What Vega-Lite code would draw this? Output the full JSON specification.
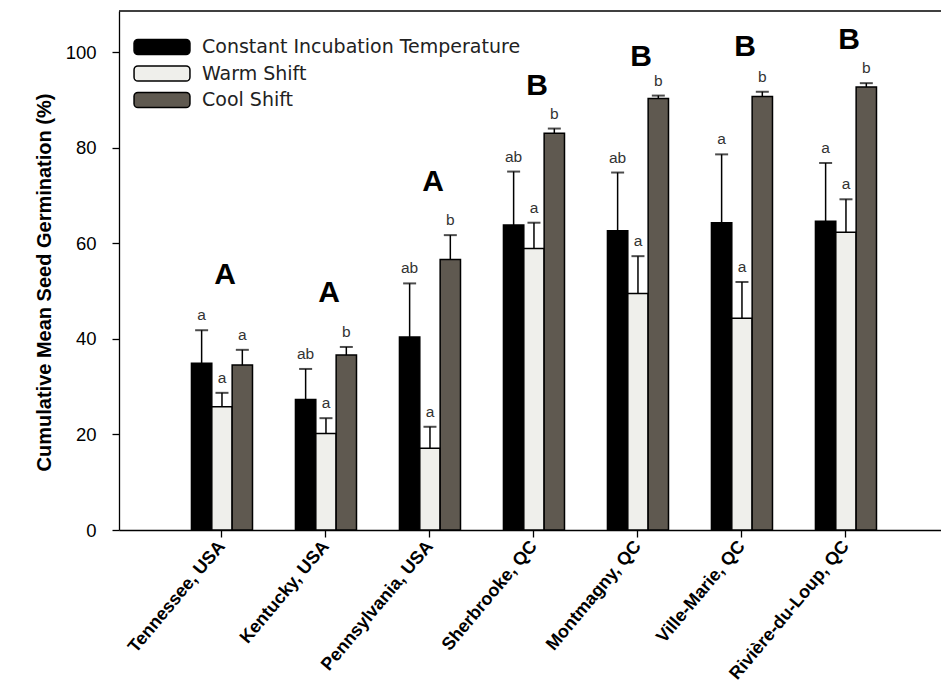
{
  "$schema": "https://vega.github.io/schema/vega-lite/v6.json",
  "width": 822,
  "height": 519,
  "autosize": {"type": "none"},
  "padding": {"left": 119, "top": 11, "right": 0, "bottom": 159},
  "background": "white",
  "config": {
    "view": {"stroke": null},
    "font": "Liberation Sans",
    "axis": {"grid": false, "domainColor": "black", "tickColor": "black", "domainWidth": 1.3, "tickWidth": 1.3, "labelColor": "black", "titleColor": "black"}
  },
  "datasets": {
    "bars": [
      {"site": "Tennessee, USA", "treatment": "Constant Incubation Temperature", "mean": 34.9, "upper": 41.8, "letter": "a"},
      {"site": "Tennessee, USA", "treatment": "Warm Shift", "mean": 25.8, "upper": 28.7, "letter": "a"},
      {"site": "Tennessee, USA", "treatment": "Cool Shift", "mean": 34.5, "upper": 37.7, "letter": "a"},
      {"site": "Kentucky, USA", "treatment": "Constant Incubation Temperature", "mean": 27.3, "upper": 33.7, "letter": "ab"},
      {"site": "Kentucky, USA", "treatment": "Warm Shift", "mean": 20.2, "upper": 23.4, "letter": "a"},
      {"site": "Kentucky, USA", "treatment": "Cool Shift", "mean": 36.6, "upper": 38.3, "letter": "b"},
      {"site": "Pennsylvania, USA", "treatment": "Constant Incubation Temperature", "mean": 40.4, "upper": 51.6, "letter": "ab"},
      {"site": "Pennsylvania, USA", "treatment": "Warm Shift", "mean": 17.1, "upper": 21.6, "letter": "a"},
      {"site": "Pennsylvania, USA", "treatment": "Cool Shift", "mean": 56.6, "upper": 61.7, "letter": "b"},
      {"site": "Sherbrooke, QC", "treatment": "Constant Incubation Temperature", "mean": 63.8, "upper": 75.0, "letter": "ab"},
      {"site": "Sherbrooke, QC", "treatment": "Warm Shift", "mean": 58.9, "upper": 64.3, "letter": "a"},
      {"site": "Sherbrooke, QC", "treatment": "Cool Shift", "mean": 83.0, "upper": 84.0, "letter": "b"},
      {"site": "Montmagny, QC", "treatment": "Constant Incubation Temperature", "mean": 62.6, "upper": 74.8, "letter": "ab"},
      {"site": "Montmagny, QC", "treatment": "Warm Shift", "mean": 49.5, "upper": 57.3, "letter": "a"},
      {"site": "Montmagny, QC", "treatment": "Cool Shift", "mean": 90.3, "upper": 90.9, "letter": "b"},
      {"site": "Ville-Marie, QC", "treatment": "Constant Incubation Temperature", "mean": 64.3, "upper": 78.6, "letter": "a"},
      {"site": "Ville-Marie, QC", "treatment": "Warm Shift", "mean": 44.3, "upper": 51.9, "letter": "a"},
      {"site": "Ville-Marie, QC", "treatment": "Cool Shift", "mean": 90.7, "upper": 91.7, "letter": "b"},
      {"site": "Rivière-du-Loup, QC", "treatment": "Constant Incubation Temperature", "mean": 64.6, "upper": 76.8, "letter": "a"},
      {"site": "Rivière-du-Loup, QC", "treatment": "Warm Shift", "mean": 62.3, "upper": 69.2, "letter": "a"},
      {"site": "Rivière-du-Loup, QC", "treatment": "Cool Shift", "mean": 92.7, "upper": 93.5, "letter": "b"}
    ],
    "groups": [
      {"site": "Tennessee, USA", "y": 53.3, "label": "A"},
      {"site": "Kentucky, USA", "y": 49.6, "label": "A"},
      {"site": "Pennsylvania, USA", "y": 72.8, "label": "A"},
      {"site": "Sherbrooke, QC", "y": 93.0, "label": "B"},
      {"site": "Montmagny, QC", "y": 99.0, "label": "B"},
      {"site": "Ville-Marie, QC", "y": 101.0, "label": "B"},
      {"site": "Rivière-du-Loup, QC", "y": 102.5, "label": "B"}
    ]
  },
  "layer": [
    {
      "data": {"name": "bars"},
      "mark": {"type": "bar", "stroke": "black", "strokeWidth": 1.5},
      "encoding": {
        "x": {
          "field": "site", "type": "nominal", "sort": null,
          "scale": {"paddingInner": 0.413, "paddingOuter": 0.6585, "align": 0.529},
          "axis": {"title": null, "labelAngle": -50, "labelAlign": "right", "labelBaseline": "middle", "labelFont": "Liberation Sans", "labelFontSize": 18, "labelFontWeight": "bold", "tickSize": 7, "labelPadding": 6}
        },
        "xOffset": {
          "field": "treatment", "type": "nominal",
          "sort": ["Constant Incubation Temperature", "Warm Shift", "Cool Shift"],
          "scale": {"paddingInner": 0, "paddingOuter": 0}
        },
        "y": {
          "field": "mean", "type": "quantitative",
          "scale": {"domain": [0, 108.6], "nice": false, "zero": true},
          "axis": {"values": [0, 20, 40, 60, 80, 100], "title": "Cumulative Mean Seed Germination (%)", "titleFont": "Liberation Sans", "titleFontSize": 20, "titleFontWeight": "bold", "titlePadding": 11, "titleY": 271, "labelFont": "Liberation Sans", "labelFontSize": 18.5, "tickSize": 7, "labelPadding": 16}
        },
        "color": {
          "field": "treatment", "type": "nominal",
          "scale": {"domain": ["Constant Incubation Temperature", "Warm Shift", "Cool Shift"], "range": ["#000000", "#efefeb", "#5f5950"]},
          "legend": {
            "title": null, "orient": "none", "legendX": 29, "legendY": 22, "padding": 0,
            "symbolType": "M-1.85,-0.58H1.85A0.3,0.3 0 0 1 2.15,-0.28V0.28A0.3,0.3 0 0 1 1.85,0.58H-1.85A0.3,0.3 0 0 1 -2.15,0.28V-0.28A0.3,0.3 0 0 1 -1.85,-0.58Z",
            "symbolSize": 676, "symbolStrokeColor": "black", "symbolStrokeWidth": 1.5, "symbolOpacity": 1,
            "labelFont": "DejaVu Sans", "labelFontSize": 19, "labelColor": "#222", "labelOffset": 26, "rowPadding": 1.5, "labelLimit": 400
          }
        }
      }
    },
    {
      "data": {"name": "bars"},
      "mark": {"type": "rule", "color": "black", "strokeWidth": 1.5},
      "encoding": {
        "x": {"field": "site", "type": "nominal", "sort": null},
        "xOffset": {"field": "treatment", "type": "nominal", "sort": ["Constant Incubation Temperature", "Warm Shift", "Cool Shift"]},
        "y": {"field": "mean", "type": "quantitative"},
        "y2": {"field": "upper"}
      }
    },
    {
      "data": {"name": "bars"},
      "mark": {"type": "tick", "color": "black", "size": 13, "thickness": 2, "orient": "horizontal"},
      "encoding": {
        "x": {"field": "site", "type": "nominal", "sort": null},
        "xOffset": {"field": "treatment", "type": "nominal", "sort": ["Constant Incubation Temperature", "Warm Shift", "Cool Shift"]},
        "y": {"field": "upper", "type": "quantitative"}
      }
    },
    {
      "data": {"name": "bars"},
      "mark": {"type": "text", "font": "Liberation Sans", "fontSize": 15.5, "color": "#333", "baseline": "alphabetic", "dy": -10},
      "encoding": {
        "x": {"field": "site", "type": "nominal", "sort": null},
        "xOffset": {"field": "treatment", "type": "nominal", "sort": ["Constant Incubation Temperature", "Warm Shift", "Cool Shift"]},
        "y": {"field": "upper", "type": "quantitative"},
        "text": {"field": "letter"}
      }
    },
    {
      "data": {"name": "groups"},
      "mark": {"type": "text", "font": "Liberation Sans", "fontSize": 30, "fontWeight": "bold", "color": "black", "baseline": "middle", "dx": 3},
      "encoding": {
        "x": {"field": "site", "type": "nominal", "sort": null},
        "y": {"field": "y", "type": "quantitative"},
        "text": {"field": "label"}
      }
    },
    {
      "data": {"values": [{"top": 108.6}]},
      "mark": {"type": "rule", "color": "black", "strokeWidth": 1.3},
      "encoding": {"y": {"field": "top", "type": "quantitative"}}
    }
  ]
}
